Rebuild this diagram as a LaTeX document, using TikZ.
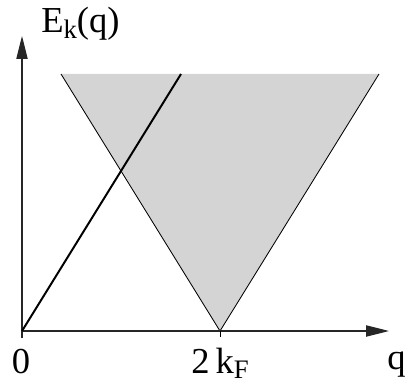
\documentclass[tikz,border=0pt]{standalone}
\usepackage{fontspec}
\setmainfont{Liberation Serif}
\usetikzlibrary{arrows.meta}
\tikzset{
  axis/.style={-{Triangle[length=0.57cm,width=0.28cm]}, line width=0.8pt, color=black!85},
  band/.style={fill=black!17},
  edge/.style={line width=0.6pt, color=black},
  disp/.style={line width=1.4pt, color=black},
  lbl/.style={font=\fontsize{26}{30}\selectfont, inner sep=0pt, anchor=base west},
}
\newcommand{\lowsub}[1]{\raisebox{-0.16em}{\fontsize{19}{19}\selectfont #1}}
\begin{document}
\begin{tikzpicture}[x=0.025cm,y=-0.025cm]
  \useasboundingbox (0,0) rectangle (405,385);
  % axes
  \coordinate (o) at (22,331);
  \coordinate (ylow) at (22,338);
  \coordinate (yend) at (22,36);
  \coordinate (xend) at (389,331);
  \coordinate (kf) at (220,331);
  \coordinate (kflow) at (220,337);
  % particle-hole band
  \coordinate (tl) at (61,74);
  \coordinate (tr) at (379,74);
  \coordinate (lt) at (181,74);
  \fill[band] (tl) -- (tr) -- (kf) -- cycle;
  \draw[edge] (tl) -- (kf) -- (tr);
  \draw[axis] (ylow) -- (yend);
  \draw[axis] (o) -- (xend);
  \draw[edge] (kf) -- (kflow);
  \draw[disp] (o) -- (lt);
  % labels
  \node[lbl] (elab) at (41,33) {E\lowsub{k}(q)};
  \node[lbl, anchor=base] (zero) at (21,373) {0};
  \node[lbl] (kflab) at (191,373) {2\,k\lowsub{F}};
  \node[lbl] (qlab) at (387,369) {q};
\end{tikzpicture}
\end{document}
